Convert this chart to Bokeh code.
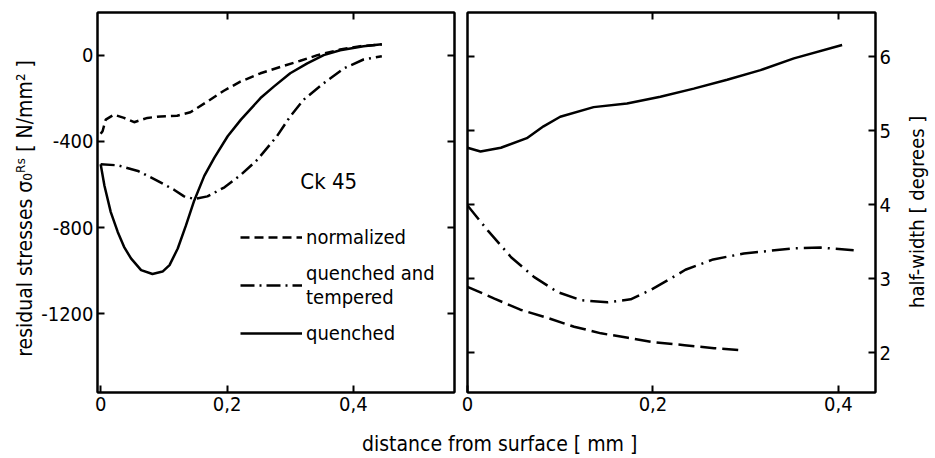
import math
from bokeh.plotting import figure
from bokeh.layouts import row, column
from bokeh.models import Range1d, LinearAxis, FixedTicker, Div, Label, Legend, LegendItem
from bokeh.embed import file_html
from bokeh.resources import INLINE

FONT = "DejaVu Sans Condensed"

# ---- left panel: residual stresses [N/mm^2] vs distance [mm]
norm_x = [0.0, 0.003, 0.008, 0.021, 0.037, 0.053, 0.074, 0.095, 0.121, 0.142, 0.169, 0.195, 0.221, 0.253, 0.285, 0.316, 0.343, 0.379, 0.411, 0.445]
norm_y = [-365, -353, -299, -276, -291, -311, -291, -284, -281, -265, -215, -165, -123, -84, -54, -26, 0, 26, 42, 50]

qt_x = [0.0, 0.027, 0.059, 0.09, 0.116, 0.132, 0.148, 0.169, 0.196, 0.222, 0.248, 0.279, 0.3, 0.321, 0.353, 0.385, 0.416, 0.445]
qt_y = [-506, -511, -537, -583, -624, -655, -667, -655, -613, -555, -485, -376, -284, -207, -130, -61, -20, -5]

q_x = [0.0, 0.006, 0.016, 0.027, 0.037, 0.048, 0.064, 0.082, 0.098, 0.109, 0.122, 0.135, 0.148, 0.164, 0.18, 0.201, 0.222, 0.253, 0.274, 0.3, 0.327, 0.353, 0.379, 0.416, 0.445]
q_y = [-506, -606, -728, -820, -889, -943, -997, -1015, -1004, -974, -897, -790, -675, -560, -475, -376, -299, -199, -146, -84, -38, 0, 23, 41, 51]

# ---- right panel: half-width [degrees] vs distance [mm]
hq_x = [0.0, 0.014, 0.036, 0.064, 0.082, 0.1, 0.136, 0.172, 0.208, 0.244, 0.28, 0.316, 0.352, 0.404]
hq_y = [4.77, 4.72, 4.77, 4.90, 5.06, 5.19, 5.32, 5.37, 5.46, 5.57, 5.69, 5.82, 5.98, 6.16]

hqt_x = [0.0, 0.022, 0.047, 0.072, 0.097, 0.122, 0.151, 0.176, 0.198, 0.219, 0.235, 0.265, 0.298, 0.352, 0.381, 0.422]
hqt_y = [3.99, 3.65, 3.29, 3.02, 2.82, 2.71, 2.68, 2.72, 2.85, 3.00, 3.12, 3.26, 3.34, 3.41, 3.42, 3.38]

hn_x = [0.0, 0.029, 0.057, 0.086, 0.115, 0.144, 0.173, 0.201, 0.234, 0.266, 0.298]
hn_y = [2.89, 2.73, 2.58, 2.47, 2.35, 2.26, 2.20, 2.14, 2.10, 2.06, 2.03]

x_ticks = [0, 0.2, 0.4]
x_tick_labels = {0: "0", 0.2: "0,2", 0.4: "0,4"}
s_ticks = [0, -400, -800, -1200]
s_tick_labels = {0: "0", -400: "-400", -800: "-800", -1200: "-1200"}
h_ticks = [2, 3, 4, 5, 6]

legend_labels = ["normalized", "quenched and\ntempered", "quenched"]


def style_axis(ax, ticks, overrides=None, labels=True):
    ax.ticker = FixedTicker(ticks=ticks)
    ax.minor_tick_line_color = None
    ax.major_tick_in = 7
    ax.major_tick_out = 0
    ax.major_tick_line_width = 2
    ax.axis_line_width = 2
    ax.axis_line_color = "black"
    ax.axis_label_text_font = FONT
    ax.axis_label_text_font_size = "21px"
    ax.axis_label_text_font_style = "normal"
    ax.axis_label_text_color = "black"
    ax.axis_label_standoff = 0
    if labels:
        ax.major_label_text_font = FONT
        ax.major_label_text_font_size = "20px"
        ax.major_label_text_color = "black"
        ax.major_label_standoff = 4
        if overrides:
            ax.major_label_overrides = overrides
    else:
        ax.major_label_overrides = {t: "" for t in ticks}
        ax.major_label_text_font_size = "0px"
        ax.major_label_standoff = 0


# ---------------- left figure
p1 = figure(width=460, height=428, output_backend="svg", toolbar_location=None,
            x_range=Range1d(-0.005, 0.56), y_range=Range1d(-1565, 198),
            min_border_left=97, min_border_right=6, min_border_top=12, min_border_bottom=32)
p1.grid.visible = False
p1.outline_line_color = "black"
p1.outline_line_width = 2
style_axis(p1.xaxis[0], x_ticks, x_tick_labels)
style_axis(p1.yaxis[0], s_ticks, s_tick_labels)
p1.yaxis[0].axis_label = "residual  stresses  σ₀ᴿˢ [ N/mm² ]"
p1.yaxis[0].axis_label_standoff = 1
ax_top = LinearAxis()
style_axis(ax_top, [0.2, 0.4], labels=False)
p1.add_layout(ax_top, "above")
ax_r = LinearAxis()
style_axis(ax_r, s_ticks, labels=False)
p1.add_layout(ax_r, "right")

r_n = p1.line(norm_x, norm_y, line_color="black", line_width=2.5, line_dash="9 5")
r_qt = p1.line(qt_x, qt_y, line_color="black", line_width=2.5, line_dash="14 5 2 5")
r_q = p1.line(q_x, q_y, line_color="black", line_width=2.5)

legend = Legend(items=[LegendItem(label=legend_labels[0], renderers=[r_n]),
                       LegendItem(label=legend_labels[1], renderers=[r_qt]),
                       LegendItem(label=legend_labels[2], renderers=[r_q])],
                location=(143, 47), glyph_width=62, glyph_height=20,
                label_text_font=FONT, label_text_font_size="20px", label_text_color="black",
                label_standoff=4, spacing=12, padding=0, margin=0,
                border_line_alpha=0, background_fill_alpha=0)
p1.add_layout(legend)

p1.add_layout(Label(x=0.316, y=-584, text="Ck 45", text_font=FONT, text_font_size="22px",
                    text_color="black", text_baseline="middle", text_align="left"))

# ---------------- right figure
p2 = figure(width=440, height=428, output_backend="svg", toolbar_location=None,
            x_range=Range1d(0.0, 0.44), y_range=Range1d(1.46, 6.6),
            min_border_left=7, min_border_right=25, min_border_top=10, min_border_bottom=36)
p2.grid.visible = False
p2.outline_line_color = "black"
p2.outline_line_width = 2
style_axis(p2.xaxis[0], x_ticks, x_tick_labels)
style_axis(p2.yaxis[0], h_ticks, labels=False)
ax_top2 = LinearAxis()
style_axis(ax_top2, [0.2, 0.4], labels=False)
p2.add_layout(ax_top2, "above")
ax_r2 = LinearAxis()
style_axis(ax_r2, h_ticks)
p2.add_layout(ax_r2, "right")

p2.line(hq_x, hq_y, line_color="black", line_width=2.5)
p2.line(hqt_x, hqt_y, line_color="black", line_width=2.5, line_dash="18 6 2 6")
p2.line(hn_x, hn_y, line_color="black", line_width=2.5, line_dash="16 6")

ylabel_right = Div(
    text='<div style="writing-mode: vertical-rl; transform: rotate(180deg); '
         'height: 414px; width: 24px; text-align: center; line-height: 24px; '
         'font-family: \'DejaVu Sans Condensed\'; font-size: 20px; color: black;">'
         'half-width [ degrees ]</div>',
    width=24, height=414)

xlabel = Div(text="distance from surface [ mm ]", width=600, height=22,
             styles={"font-family": FONT, "font-size": "21px", "color": "black",
                     "line-height": "22px", "margin-left": "362px"})

layout = column(row(p1, p2, ylabel_right, spacing=0), xlabel, spacing=0)

open("out.html", "w").write(file_html(layout, INLINE))
